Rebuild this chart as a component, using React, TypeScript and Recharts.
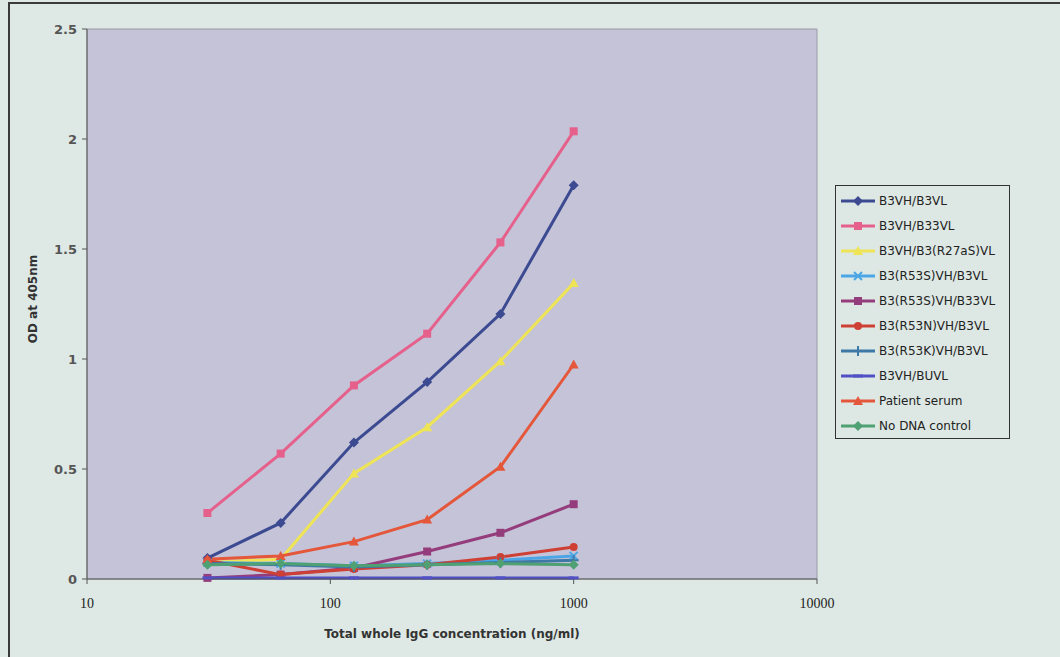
import {
  LineChart,
  Line,
  XAxis,
  YAxis,
  ReferenceArea,
} from "recharts";

// dilution series, ng/ml
const concentrations = [31.25, 62.5, 125, 250, 500, 1000];

const b3vhB3vl = [0.095, 0.255, 0.62, 0.895, 1.205, 1.79];
const b3vhB33vl = [0.3, 0.57, 0.88, 1.115, 1.53, 2.035];
const b3vhR27aS = [0.075, 0.09, 0.48, 0.69, 0.99, 1.345];
const r53sB3vl = [0.075, 0.07, 0.06, 0.07, 0.085, 0.105];
const r53sB33vl = [0.005, 0.02, 0.05, 0.125, 0.21, 0.34];
const r53nB3vl = [0.085, 0.02, 0.045, 0.065, 0.1, 0.145];
const r53kB3vl = [0.07, 0.065, 0.055, 0.065, 0.075, 0.085];
const b3vhBuvl = [0.005, 0.005, 0.005, 0.005, 0.005, 0.005];
const patientSerum = [0.09, 0.105, 0.17, 0.27, 0.51, 0.975];
const noDna = [0.065, 0.07, 0.06, 0.065, 0.07, 0.065];

const xTicks = [10, 100, 1000, 10000];
const yTicks = [0, 0.5, 1, 1.5, 2, 2.5];

type Shape = "diamond" | "square" | "triangle" | "x" | "circle" | "plus" | "dash";

const series: { key: string; name: string; values: number[]; color: string; shape: Shape }[] = [
  { key: "s1", name: "B3VH/B3VL", values: b3vhB3vl, color: "#3c4a92", shape: "diamond" },
  { key: "s2", name: "B3VH/B33VL", values: b3vhB33vl, color: "#e6608c", shape: "square" },
  { key: "s3", name: "B3VH/B3(R27aS)VL", values: b3vhR27aS, color: "#eee455", shape: "triangle" },
  { key: "s4", name: "B3(R53S)VH/B3VL", values: r53sB3vl, color: "#4ca6e6", shape: "x" },
  { key: "s5", name: "B3(R53S)VH/B33VL", values: r53sB33vl, color: "#953d7c", shape: "square" },
  { key: "s6", name: "B3(R53N)VH/B3VL", values: r53nB3vl, color: "#cf4034", shape: "circle" },
  { key: "s7", name: "B3(R53K)VH/B3VL", values: r53kB3vl, color: "#3d78a6", shape: "plus" },
  { key: "s8", name: "B3VH/BUVL", values: b3vhBuvl, color: "#5050c4", shape: "dash" },
  { key: "s9", name: "Patient serum", values: patientSerum, color: "#e4573a", shape: "triangle" },
  { key: "s10", name: "No DNA control", values: noDna, color: "#4fa072", shape: "diamond" },
];

const rows = concentrations.map((c, i) => {
  const row: Record<string, number> = { conc: c };
  series.forEach((s) => {
    row[s.key] = s.values[i];
  });
  return row;
});

function Marker({ cx, cy, shape, color }: { cx: number; cy: number; shape: Shape; color: string }) {
  const r = 4;
  switch (shape) {
    case "diamond":
      return <polygon points={`${cx},${cy - r - 1} ${cx + r + 1},${cy} ${cx},${cy + r + 1} ${cx - r - 1},${cy}`} fill={color} />;
    case "square":
      return <rect x={cx - r} y={cy - r} width={2 * r} height={2 * r} fill={color} />;
    case "triangle":
      return <polygon points={`${cx},${cy - r - 1} ${cx + r + 1},${cy + r} ${cx - r - 1},${cy + r}`} fill={color} />;
    case "circle":
      return <circle cx={cx} cy={cy} r={r} fill={color} />;
    case "x":
      return (
        <path d={`M${cx - r},${cy - r}L${cx + r},${cy + r}M${cx - r},${cy + r}L${cx + r},${cy - r}`} stroke={color} strokeWidth={2} />
      );
    case "plus":
      return <path d={`M${cx - r - 1},${cy}L${cx + r + 1},${cy}M${cx},${cy - r - 1}L${cx},${cy + r + 1}`} stroke={color} strokeWidth={2} />;
    default:
      return <path d={`M${cx - r - 1},${cy}L${cx + r + 1},${cy}`} stroke={color} strokeWidth={3} />;
  }
}

function LegendBox() {
  return (
    <div
      style={{
        position: "absolute",
        left: 835,
        top: 185,
        border: "1.5px solid #333",
        background: "#dde8e4",
        padding: "2px 0 0 0",
        width: 173,
        fontFamily: "DejaVu Sans, sans-serif",
        fontSize: 12,
        color: "#222",
      }}
    >
      {series.map((s) => (
        <div key={s.key} style={{ height: 25, display: "flex", alignItems: "center" }}>
          <svg width={40} height={14} style={{ marginLeft: 3 }}>
            <line x1={2} y1={7} x2={36} y2={7} stroke={s.color} strokeWidth={3} />
            <Marker cx={19} cy={7} shape={s.shape} color={s.color} />
          </svg>
          <span style={{ whiteSpace: "nowrap" }}>{s.name}</span>
        </div>
      ))}
    </div>
  );
}

export default function App() {
  return (
    <div
      style={{
        position: "absolute",
        left: 0,
        top: 0,
        width: 1060,
        height: 657,
        background: "#dee9e5",
        overflow: "hidden",
      }}
    >
      <div
        style={{
          position: "absolute",
          left: 8,
          top: 2,
          width: 1100,
          height: 700,
          borderTop: "2px solid #3a3a3a",
          borderLeft: "2px solid #3a3a3a",
        }}
      />
      <div style={{ position: "absolute", left: 0, top: 0 }}>
        <LineChart
          width={1060}
          height={657}
          data={rows}
          margin={{ top: 29, right: 243, left: 27, bottom: 48 }}
        >
          <ReferenceArea x1={10} x2={10000} y1={0} y2={2.5} fill="#c4c3d7" fillOpacity={1} stroke="#9a9aa6" ifOverflow="visible" />
          <XAxis
            dataKey="conc"
            type="number"
            scale="log"
            domain={[10, 10000]}
            ticks={xTicks}
            allowDataOverflow
            height={30}
            stroke="#555"
            tickSize={5}
            tick={{ fontFamily: "Liberation Serif, serif", fontSize: 14, fill: "#222", dy: 12 }}
            label={{
              value: "Total whole IgG concentration (ng/ml)",
              position: "insideBottom",
              offset: -29,
              style: { fontFamily: "DejaVu Sans, sans-serif", fontSize: 12, fontWeight: "bold", fill: "#333" },
            }}
          />
          <YAxis
            type="number"
            domain={[0, 2.5]}
            ticks={yTicks}
            width={60}
            stroke="#555"
            tickSize={5}
            tick={{ fontFamily: "DejaVu Sans, sans-serif", fontSize: 13, fontWeight: "bold", fill: "#555", dx: -3 }}
            label={{
              value: "OD at 405nm",
              angle: -90,
              position: "insideLeft",
              offset: 0,
              dx: 6,
              dy: -5,
              style: { fontFamily: "DejaVu Sans, sans-serif", fontSize: 12, fontWeight: "bold", fill: "#333", textAnchor: "middle" },
            }}
          />
          {series.map((s) => (
            <Line
              key={s.key}
              dataKey={s.key}
              name={s.name}
              stroke={s.color}
              strokeWidth={3}
              isAnimationActive={false}
              dot={(p: any) => <Marker key={`${s.key}-${p.index}`} cx={p.cx} cy={p.cy} shape={s.shape} color={s.color} />}
              activeDot={false}
            />
          ))}
        </LineChart>
      </div>
      <LegendBox />
    </div>
  );
}
